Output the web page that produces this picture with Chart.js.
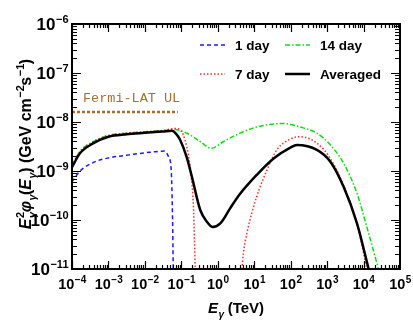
<!DOCTYPE html>
<html>
<head>
<meta charset="utf-8">
<script src="https://cdn.jsdelivr.net/npm/chart.js@4.4.1/dist/chart.umd.min.js"></script>
<style>
  html, body { margin: 0; padding: 0; background: #fff; }
  #wrap { width: 413px; height: 322px; }
</style>
</head>
<body>
<div id="wrap"><canvas id="c" width="413" height="322"></canvas></div>
<script>
// energies in TeV, fluxes in GeV cm^-2 s^-1
const avgE = [1e-4, 1.66e-4, 3.9e-4, 1e-3, 3.16e-3, 1e-2, 3.16e-2, 5.5e-2, 7.1e-2, 9.3e-2, 0.141, 0.195, 0.33, 0.5, 0.73, 1.17, 2.2, 4.2, 11.7, 34, 98, 148, 525, 1230, 2820, 6600, 13800];
const avgF = [1.2e-9, 2.3e-9, 3.7e-9, 5.0e-9, 5.6e-9, 6.0e-9, 6.4e-9, 6.6e-9, 5.8e-9, 4.3e-9, 1.9e-9, 7.6e-10, 1.6e-10, 9.3e-11, 7.2e-11, 8.5e-11, 1.75e-10, 3.5e-10, 8.3e-10, 1.8e-9, 3.0e-9, 3.4e-9, 2.7e-9, 1.55e-9, 4.8e-10, 8.5e-11, 1e-11];

const day1E = [1e-4, 1.66e-4, 3.9e-4, 1e-3, 3.16e-3, 1e-2, 3.55e-2, 4.47e-2, 5.25e-2, 5.75e-2, 6.0e-2];
const day1F = [6e-10, 1.0e-9, 1.5e-9, 1.85e-9, 2.1e-9, 2.35e-9, 2.55e-9, 1.95e-9, 1.1e-9, 1e-10, 1e-11];

const day7E = [1e-4, 1.66e-4, 3.9e-4, 1e-3, 3.16e-3, 1e-2, 3.16e-2, 6.76e-2, 0.1, 0.126, 0.158, 0.19, 0.214, 0.229, 0.24,
               4.6, 5.0, 6.3, 11.7, 22.4, 41.7, 98, 182, 525, 1230, 2820, 6600, 12300];
const day7F = [1.3e-9, 2.5e-9, 4.0e-9, 5.3e-9, 5.9e-9, 6.3e-9, 6.7e-9, 7.4e-9, 6.5e-9, 4.3e-9, 2.0e-9, 7e-10, 2e-10, 4e-11, 1e-11,
               1e-11, 2e-11, 5.4e-11, 3.0e-10, 1.05e-9, 2.7e-9, 4.5e-9, 5.0e-9, 3.7e-9, 1.8e-9, 5.1e-10, 8.5e-11, 1e-11];
const day7Gap = 15; // index where the second branch of the 7 day curve starts

const day14E = [1e-4, 1.66e-4, 3.9e-4, 1e-3, 3.16e-3, 1e-2, 3.16e-2, 6.76e-2, 0.141, 0.33, 0.66, 1.45, 4.2, 11.7, 34, 65, 182, 525, 1230, 2820, 6600, 12300, 25700];
const day14F = [1.3e-9, 2.5e-9, 4.0e-9, 5.3e-9, 5.9e-9, 6.3e-9, 6.7e-9, 7.0e-9, 5.9e-9, 4.0e-9, 2.9e-9, 4.0e-9, 6.0e-9, 7.9e-9, 9.1e-9, 9.3e-9, 7.9e-9, 5.9e-9, 3.4e-9, 1.45e-9, 3.5e-10, 7.2e-11, 1e-11];

const fermiE = [1e-4, 0.08];
const fermiF = [1.6e-8, 1.6e-8];

const xTicks = [-4, -3, -2, -1, 0, 1, 2, 3, 4, 5];
const yTicks = [-11, -10, -9, -8, -7, -6];

const legendItems = [
  { label: '1 day', color: '#1a1aff', dash: [4, 3], width: 1.5, col: 0, row: 0 },
  { label: '14 day', color: '#10dd10', dash: [5, 2, 1.5, 2], width: 1.5, col: 1, row: 0 },
  { label: '7 day', color: '#ff2a2a', dash: [1.5, 2], width: 1.5, col: 0, row: 1 },
  { label: 'Averaged', color: '#000000', dash: [], width: 2.5, col: 1, row: 1 }
];

function pts(xs, ys) {
  return xs.map((x, i) => ({ x: x, y: ys[i] }));
}

const day7Pts = pts(day7E, day7F);
day7Pts.splice(day7Gap, 0, { x: 1, y: null });

const SANS = '"Liberation Sans", Arial, sans-serif';

// draws text made of pieces with super/subscripts, returns width
function rich(ctx, segs, x, y, size, align, draw) {
  const small = Math.round(size * 0.66);
  const base = (it, s) => 'bold ' + (it ? 'italic ' : '') + s + 'px ' + SANS;
  let w = 0;
  const widths = segs.map(s => {
    let sw = 0;
    if (s.t !== undefined) { ctx.font = base(s.it, size); sw = ctx.measureText(s.t).width; }
    let a = 0, b = 0;
    if (s.sup !== undefined) { ctx.font = base(false, small); a = ctx.measureText(s.sup).width; }
    if (s.sub !== undefined) { ctx.font = base(true, small); b = ctx.measureText(s.sub).width; }
    sw += Math.max(a, b);
    if (s.gap) sw += s.gap;
    w += sw;
    return sw;
  });
  if (!draw) return w;
  let cx = align === 'center' ? x - w / 2 : align === 'right' ? x - w : x;
  ctx.textAlign = 'left';
  ctx.textBaseline = 'alphabetic';
  segs.forEach((s, i) => {
    let px = cx;
    if (s.t !== undefined) {
      ctx.font = base(s.it, size);
      ctx.fillText(s.t, px, y);
      px += ctx.measureText(s.t).width;
    }
    if (s.sup !== undefined) { ctx.font = base(false, small); ctx.fillText(s.sup, px + 0.5, y - size * 0.42); }
    if (s.sub !== undefined) { ctx.font = base(true, small); ctx.fillText(s.sub, px + 0.5, y + size * 0.3); }
    cx += widths[i];
  });
  return w;
}

const decor = {
  id: 'decor',
  afterDraw(chart) {
    const ctx = chart.ctx;
    const xs = chart.scales.x, ys = chart.scales.y;
    const a = chart.chartArea;
    ctx.save();
    ctx.strokeStyle = '#000';
    ctx.fillStyle = '#000';

    // ticks on all four sides, pointing inward
    ctx.lineWidth = 1.2;
    ctx.beginPath();
    for (let k = -4; k < 5; k++) {
      for (let m = 1; m < 10; m++) {
        const px = Math.round(xs.getPixelForValue(m * Math.pow(10, k))) + 0.5;
        const len = m === 1 ? 8 : 4;
        ctx.moveTo(px, a.bottom); ctx.lineTo(px, a.bottom - len);
        ctx.moveTo(px, a.top); ctx.lineTo(px, a.top + len);
      }
    }
    for (let k = -11; k < -6; k++) {
      for (let m = 1; m < 10; m++) {
        const py = Math.round(ys.getPixelForValue(m * Math.pow(10, k))) + 0.5;
        const len = m === 1 ? 9 : 5;
        ctx.moveTo(a.left, py); ctx.lineTo(a.left + len, py);
        ctx.moveTo(a.right, py); ctx.lineTo(a.right - len, py);
      }
    }
    ctx.stroke();
    ctx.lineWidth = 2;
    ctx.strokeRect(a.left, a.top, a.right - a.left, a.bottom - a.top);

    // tick labels
    xTicks.forEach(k => {
      const px = xs.getPixelForValue(Math.pow(10, k));
      rich(ctx, [{ t: '10', sup: k < 0 ? '\u2212' + (-k) : String(k) }], px, 289, 14.5, 'center', true);
    });
    yTicks.forEach(k => {
      const py = ys.getPixelForValue(Math.pow(10, k));
      rich(ctx, [{ t: '10', sup: '\u2212' + (-k) }], 68, py + 6, 17, 'right', true);
    });

    // axis titles
    rich(ctx, [{ t: 'E', it: true, sub: '\u03b3' }, { t: ' (TeV)' }], 236, 313, 15, 'center', true);
    ctx.save();
    ctx.translate(31, 144);
    ctx.rotate(-Math.PI / 2);
    rich(ctx, [
      { t: 'E', it: true, sup: '2', sub: '\u03b3' },
      { t: '\u03c6', it: true, sub: '\u03b3' },
      { t: '(' }, { t: 'E', it: true, sub: '\u03b3' }, { t: ') (GeV cm', sup: '\u22122' },
      { t: 's', sup: '\u22121' }, { t: ')' }
    ], 0, 0, 16, 'center', true);
    ctx.restore();

    // legend
    legendItems.forEach(it => {
      const lx = 200 + it.col * 85, ly = 45 + it.row * 29;
      ctx.save();
      ctx.strokeStyle = it.color;
      ctx.lineWidth = it.width;
      ctx.setLineDash(it.dash);
      ctx.beginPath();
      ctx.moveTo(lx, ly); ctx.lineTo(lx + 25, ly);
      ctx.stroke();
      ctx.restore();
      ctx.font = 'bold 13.5px ' + SANS;
      ctx.textAlign = 'left';
      ctx.textBaseline = 'middle';
      ctx.fillText(it.label, lx + 35, ly + 1);
    });

    // Fermi-LAT label
    ctx.fillStyle = '#a8702f';
    ctx.font = '13.5px "Liberation Mono", "DejaVu Sans Mono", monospace';
    ctx.textAlign = 'left';
    ctx.textBaseline = 'middle';
    ctx.fillText('Fermi-LAT UL', 83, 98);
    ctx.restore();
  }
};

const lineDs = (label, data, color, dash, width) => ({
  label: label,
  data: data,
  showLine: true,
  borderColor: color,
  borderWidth: width,
  borderDash: dash,
  pointRadius: 0,
  fill: false,
  spanGaps: false,
  cubicInterpolationMode: 'monotone'
});

new Chart(document.getElementById('c').getContext('2d'), {
  type: 'scatter',
  data: {
    datasets: [
      lineDs('Averaged', pts(avgE, avgF), '#000000', [], 2.5),
      lineDs('7 day', day7Pts, '#ff2a2a', [1.5, 2], 1.5),
      lineDs('14 day', pts(day14E, day14F), '#10dd10', [5, 2, 1.5, 2], 1.5),
      lineDs('1 day', pts(day1E, day1F), '#1a1aff', [4, 3], 1.5),
      lineDs('Fermi-LAT UL', pts(fermiE, fermiF), '#a86a2e', [3, 2], 2.5)
    ]
  },
  options: {
    responsive: false,
    animation: false,
    layout: { padding: { left: 72, top: 24, right: 13, bottom: 53 } },
    plugins: { legend: { display: false }, tooltip: { enabled: false } },
    scales: {
      x: { type: 'logarithmic', min: 1e-4, max: 1e5, display: false },
      y: { type: 'logarithmic', min: 1e-11, max: 1e-6, display: false }
    }
  },
  plugins: [decor]
});
</script>
</body>
</html>
